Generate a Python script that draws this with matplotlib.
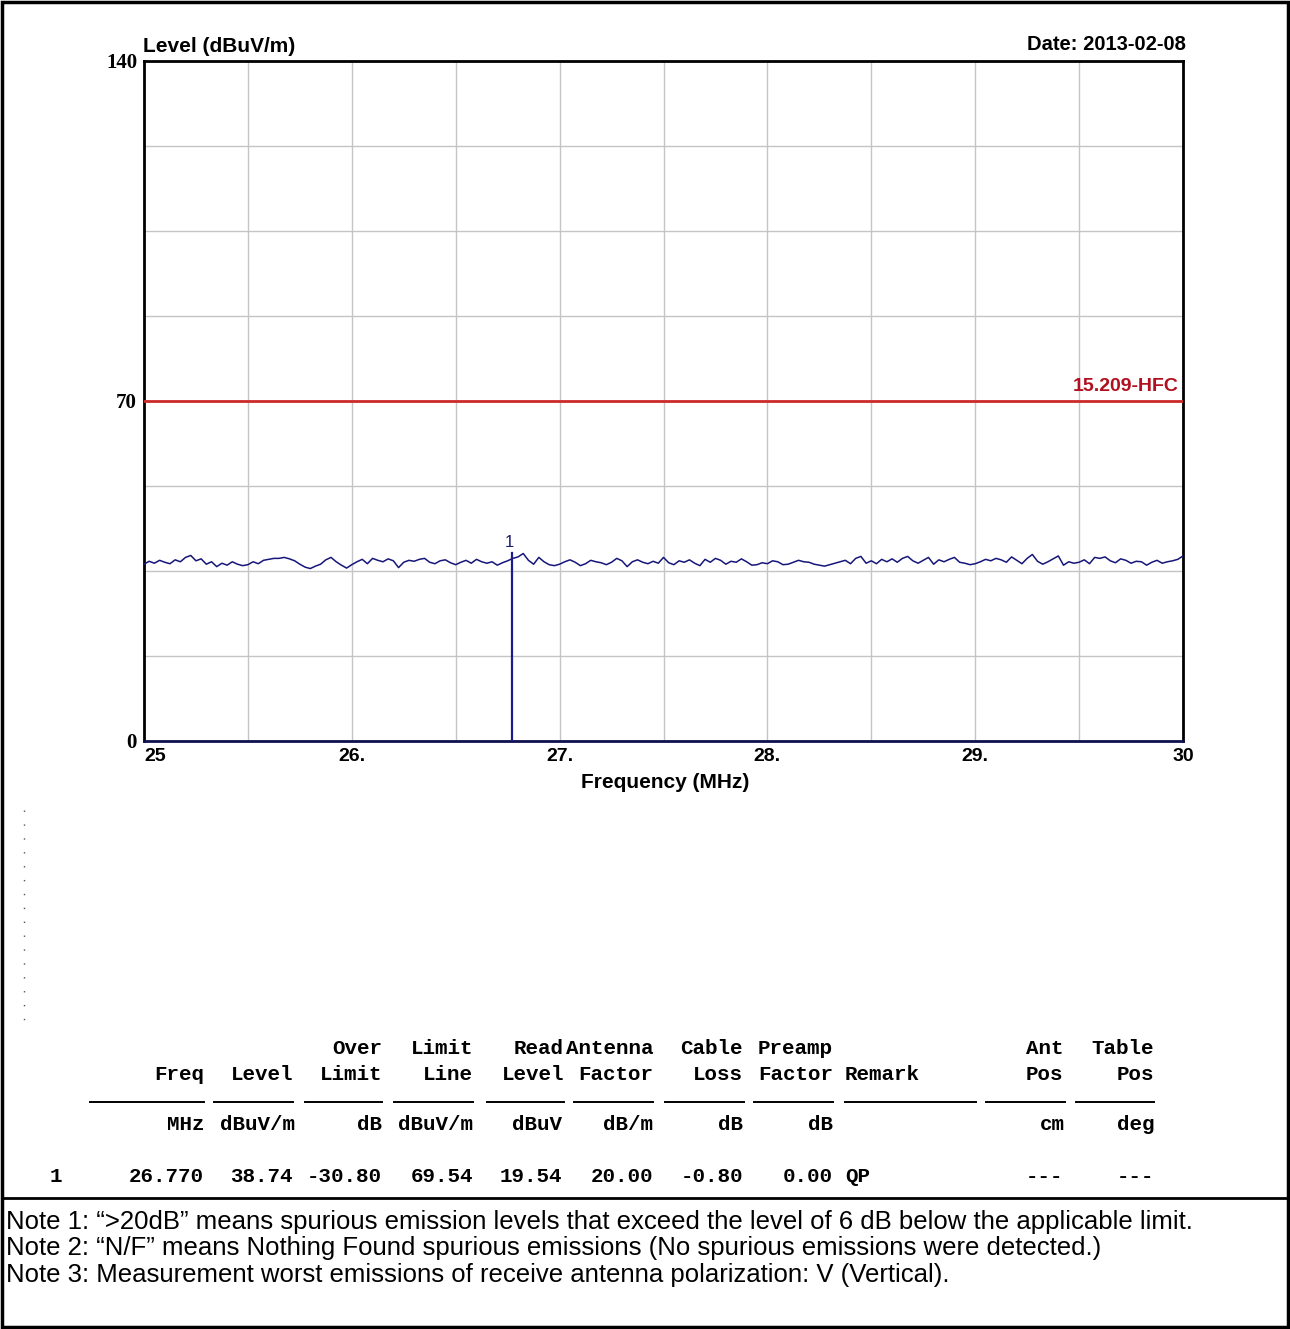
import numpy as np
import matplotlib
matplotlib.use("Agg")
import matplotlib.pyplot as plt
from matplotlib.lines import Line2D
from matplotlib.patches import Rectangle

# trace (dBuV/m), 25-30 MHz
trace_level = [
    36.4, 37.0, 36.6, 37.2, 36.8, 36.5, 37.3, 36.9, 37.8, 38.2, 37.1, 37.5, 36.4, 36.9, 35.9, 36.6, 36.2, 36.9, 36.4, 36.1,
    36.3, 36.9, 36.5, 37.2, 37.4, 37.6, 37.6, 37.8, 37.5, 37.1, 36.4, 35.8, 35.5, 36.0, 36.4, 37.3, 37.8, 36.9, 36.2, 35.6,
    36.3, 36.9, 37.4, 36.5, 37.6, 37.2, 36.9, 37.5, 37.1, 35.7, 36.8, 37.2, 37.0, 37.4, 37.6, 36.8, 36.5, 37.1, 37.3, 36.7,
    36.3, 36.8, 37.2, 36.6, 37.4, 36.9, 36.6, 36.9, 36.2, 36.7, 37.1, 37.6, 37.9, 38.6, 37.2, 36.4, 37.8, 36.9, 36.3, 36.1,
    36.4, 36.9, 37.3, 36.8, 36.1, 36.5, 37.2, 36.9, 36.7, 36.3, 36.8, 37.6, 37.1, 35.9, 36.9, 37.3, 36.8, 36.5, 37.0, 36.6,
    37.8, 36.7, 36.3, 37.1, 36.8, 37.3, 36.6, 36.1, 37.4, 36.8, 37.6, 37.2, 36.4, 37.0, 36.8, 37.5, 36.9, 36.2, 36.3, 36.7,
    36.5, 37.1, 36.9, 36.3, 36.4, 36.8, 37.2, 36.9, 36.8, 36.4, 36.2, 36.0, 36.3, 36.6, 36.9, 37.2, 36.5, 37.6, 38.0, 36.6,
    37.1, 36.5, 37.4, 36.9, 37.5, 36.8, 37.6, 38.0, 37.1, 36.6, 37.2, 37.8, 36.4, 37.3, 36.9, 37.4, 37.8, 36.8, 36.6, 36.3,
    36.5, 36.9, 37.4, 37.1, 37.6, 37.3, 36.8, 37.9, 37.2, 36.5, 37.6, 38.4, 37.0, 36.4, 36.9, 37.5, 38.1, 36.2, 36.9, 36.6,
    36.8, 37.3, 36.5, 37.8, 37.6, 37.9, 37.1, 36.7, 37.5, 37.2, 36.6, 37.0, 36.9, 36.2, 36.8, 37.2, 36.6, 36.9, 37.1, 37.4, 38.1,
]
freq = np.linspace(25, 30, len(trace_level))

limit_level = 70
limit_name = "15.209-HFC"
marker_freq = 26.770
marker_level = 38.74

x_ticks = [25, 26, 27, 28, 29, 30]
x_labels = ["25", "26.", "27.", "28.", "29.", "30"]
y_ticks = [0, 70, 140]

# result table
hdr1 = [("Over", 382), ("Limit", 473), ("Read", 564), ("Antenna", 653), ("Cable", 743),
        ("Preamp", 833), ("Ant", 1063), ("Table", 1154)]
hdr2 = [("Freq", 204), ("Level", 293), ("Limit", 382), ("Line", 473), ("Level", 564),
        ("Factor", 653), ("Loss", 743), ("Factor", 833), ("Pos", 1063), ("Pos", 1154)]
units = [("MHz", 204), ("dBuV/m", 295), ("dB", 382), ("dBuV/m", 473), ("dBuV", 562),
         ("dB/m", 653), ("dB", 743), ("dB", 833), ("cm", 1065), ("deg", 1154)]
row1 = [("26.770", 204), ("38.74", 293), ("-30.80", 382), ("69.54", 473), ("19.54", 562),
        ("20.00", 653), ("-0.80", 743), ("0.00", 833), ("---", 1063), ("---", 1154)]
rules = [(90, 204), (214, 293), (305, 382), (394, 473), (487, 564), (574, 653),
         (665, 744), (754, 833), (845, 976), (986, 1065), (1076, 1154)]

notes = [
    "Note 1: \u201c>20dB\u201d means spurious emission levels that exceed the level of 6 dB below the applicable limit.",
    "Note 2: \u201cN/F\u201d means Nothing Found spurious emissions (No spurious emissions were detected.)",
    "Note 3: Measurement worst emissions of receive antenna polarization: V (Vertical).",
]

W, H = 1290, 1329


def fx(x):
    return x / W


def fy(y):
    return 1 - y / H


fig = plt.figure(figsize=(12.9, 13.29), dpi=100)
ax = fig.add_axes([fx(144), fy(741), fx(1183) - fx(144), fy(61) - fy(741)])

ax.set_xlim(25, 30)
ax.set_ylim(0, 140)
ax.set_xticks(x_ticks)
ax.set_xticklabels(x_labels, fontfamily="Liberation Sans", fontweight="bold", fontsize=14)
ax.get_xticklabels()[0].set_horizontalalignment("left")
ax.set_xticks(np.arange(25.5, 30, 1.0), minor=True)
ax.set_yticks(y_ticks)
ax.set_yticklabels([str(v) for v in y_ticks], fontfamily="Liberation Serif",
                   fontweight="bold", fontsize=15)
ax.set_yticks(np.arange(17.5, 140, 17.5), minor=True)
ax.tick_params(which="both", length=0)
ax.tick_params(axis="x", pad=5)
ax.tick_params(axis="y", pad=5)
ax.grid(True, which="both", color="#c4c4c4", lw=1.0)
ax.set_axisbelow(True)
for s in ["left", "top", "right"]:
    ax.spines[s].set_linewidth(2)
    ax.spines[s].set_color("black")
ax.spines["bottom"].set_linewidth(2)
ax.spines["bottom"].set_color("#101050")

ax.axhline(limit_level, color="#cc2a2a", lw=2, zorder=3)
ax.text(29.98, limit_level + 1.2, limit_name, ha="right", va="bottom", color="#b01020",
        fontfamily="Liberation Sans", fontweight="bold", fontsize=14)

ax.plot(freq, trace_level, color="#16167a", lw=1.1, zorder=4)
ax.plot([marker_freq, marker_freq], [0, marker_level], color="#1c1c8c", lw=1.6, zorder=5)
ax.text(marker_freq - 0.01, marker_level + 0.6, "1", ha="center", va="bottom",
        color="#1c1c70", fontfamily="Liberation Sans", fontsize=12)

fig.text(fx(143), fy(46), "Level (dBuV/m)", ha="left", va="center",
         fontfamily="Liberation Sans", fontweight="bold", fontsize=15)
fig.text(fx(1186), fy(45), "Date: 2013-02-08", ha="right", va="center",
         fontfamily="Liberation Sans", fontweight="bold", fontsize=14.5)
fig.text(fx(665), fy(782), "Frequency (MHz)", ha="center", va="center",
         fontfamily="Liberation Sans", fontweight="bold", fontsize=15)

# dotted mark on the left
fig.add_artist(Line2D([fx(24), fx(24)], [fy(810), fy(1028)], color="#555555",
                      lw=1, linestyle=(0, (1, 9))))

mono = dict(fontfamily="Liberation Mono", fontweight="bold", fontsize=15, va="center")
for txt, xr in hdr1:
    fig.text(fx(xr), fy(1048), txt, ha="right", **mono)
for txt, xr in hdr2:
    fig.text(fx(xr), fy(1074), txt, ha="right", **mono)
fig.text(fx(845), fy(1074), "Remark", ha="left", **mono)
for x0, x1 in rules:
    fig.add_artist(Line2D([fx(x0), fx(x1)], [fy(1102), fy(1102)], color="black", lw=1.4))
for txt, xr in units:
    fig.text(fx(xr), fy(1125), txt, ha="right", **mono)
fig.text(fx(50), fy(1176), "1", ha="left", **mono)
for txt, xr in row1:
    fig.text(fx(xr), fy(1176), txt, ha="right", **mono)
fig.text(fx(845), fy(1176), "QP", ha="left", **mono)

for i, n in enumerate(notes):
    fig.text(fx(6), fy(1222 + i * 26.5), n, ha="left", va="center",
             fontfamily="Liberation Sans", fontsize=18.5)

# frame around the page and note box
fig.add_artist(Rectangle((fx(2), fy(1327)), fx(1286), fy(2) - fy(1327), fill=False,
                         edgecolor="black", lw=2.5))
fig.add_artist(Line2D([fx(2), fx(1288)], [fy(1198), fy(1198)], color="black", lw=2))

fig.savefig("out.png", dpi=100)
